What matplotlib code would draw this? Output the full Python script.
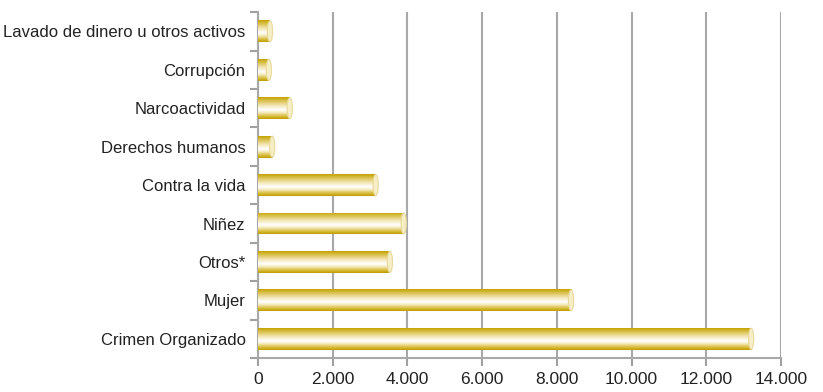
import numpy as np
import matplotlib.pyplot as plt
from matplotlib.colors import LinearSegmentedColormap
from matplotlib.patches import Ellipse

categorias = ["Crimen Organizado", "Mujer", "Otros*", "Niñez", "Contra la vida",
              "Derechos humanos", "Narcoactividad", "Corrupción",
              "Lavado de dinero u otros activos"]
casos = [13200, 8380, 3530, 3900, 3150, 380, 850, 290, 320]
xticks = [0, 2000, 4000, 6000, 8000, 10000, 12000, 14000]
xlabels = ["0", "2.000", "4.000", "6.000", "8.000", "10.000", "12.000", "14.000"]

plt.rcParams['font.family'] = ['Liberation Sans Narrow', 'Liberation Sans', 'DejaVu Sans']

fig = plt.figure(figsize=(8.23, 3.92), dpi=100)
ax = fig.add_axes([0.3135, 0.0867, 0.6355, 0.8823])

# gold cylinder look: dark edge, white highlight, dark edge
oro = LinearSegmentedColormap.from_list("oro", [
    (0.0, "#c09e00"), (0.12, "#d8bc3a"), (0.3, "#f6edc4"), (0.42, "#ffffff"),
    (0.6, "#f4e9bc"), (0.82, "#dcc456"), (1.0, "#c4a200")])
grad = np.linspace(0, 1, 64).reshape(-1, 1)

h = 0.57
y = np.arange(len(categorias))
bars = ax.barh(y, casos, height=h, color="none", zorder=3)
for b, v, yi in zip(bars, casos, y):
    im = ax.imshow(grad, cmap=oro, aspect="auto", zorder=3,
                   extent=[0, v, yi + h / 2, yi - h / 2], interpolation="bilinear")
    im.set_clip_path(b)
    ax.add_patch(Ellipse((v, yi), 140, h * 0.96, facecolor="#f6eec6",
                         edgecolor="#e8da9a", lw=0.8, zorder=4))

ax.set_xlim(0, 14000)
ax.set_ylim(-0.5, len(categorias) - 0.5)
ax.set_xticks(xticks)
ax.set_xticklabels(xlabels, fontsize=12.5, color="#222222")
ax.set_yticks(y)
ax.set_yticklabels(categorias, fontsize=12, color="#222222")
ax.set_yticks(np.arange(-0.5, len(categorias)), minor=True)
ax.tick_params(axis="y", which="major", length=0, pad=9)
ax.tick_params(axis="y", which="minor", length=6, width=1.5, color="#a0a0a0")
ax.tick_params(axis="x", length=6, width=1.5, color="#a0a0a0", pad=4)

ax.grid(axis="x", color="#a8a8a8", lw=1.5, zorder=1)
for s in ["top", "right"]:
    ax.spines[s].set_visible(False)
for s in ["left", "bottom"]:
    ax.spines[s].set_color("#a8a8a8")
    ax.spines[s].set_linewidth(1.5)

fig.savefig("out.png", dpi=100)
